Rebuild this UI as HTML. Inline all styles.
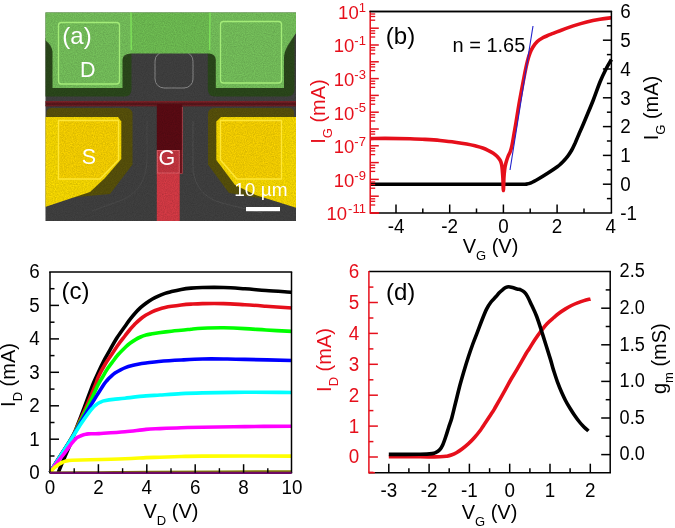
<!DOCTYPE html>
<html lang="en"><head><meta charset="utf-8"><title>Figure</title>
<style>html,body{margin:0;padding:0;background:#fff;}svg{display:block;will-change:transform;}text{font-family:"Liberation Sans", Arial, sans-serif;}</style></head><body>
<svg width="675" height="528" viewBox="0 0 675 528">
<rect width="675" height="528" fill="#fff"/>
<defs><clipPath id="sem"><rect x="45.5" y="12.5" width="250.5" height="208.5"/></clipPath><filter id="grain" x="0" y="0" width="100%" height="100%"><feTurbulence type="fractalNoise" baseFrequency="0.9" numOctaves="2" seed="3" result="n"/><feColorMatrix in="n" type="matrix" values="0 0 0 0 0  0 0 0 0 0  0 0 0 0 0  0.9 0 0 -0.28 0" result="a"/><feComposite in="a" in2="SourceGraphic" operator="in"/></filter></defs>
<g clip-path="url(#sem)">
<rect x="45" y="12" width="252" height="210" fill="#424242"/>
<rect x="155" y="52" width="38" height="36" rx="9" ry="9" fill="none" stroke="#8e8e8e" stroke-width="1"/>
<path d="M193 121 L193 170 Q196 196 222 203 L262 213" fill="none" stroke="#555" stroke-width="0.8"/>
<path d="M147 121 L147 160 Q146 190 122 200 L92 211" fill="none" stroke="#4f4f4f" stroke-width="0.8"/>
<path d="M45 38 L45 96.5 L124.5 96.5 Q131.5 96.5 131.5 89 L131.5 38 Z" fill="#2c4a1c"/>
<path d="M207.8 30 L207.8 89 Q207.8 96.5 215 96.5 L287 96.5 Q294.5 96.5 294.5 89 L294.5 30 Z" fill="#2c4a1c"/>
<path d="M45 12 L296 12 L296 33 L288 45 Q284 52 284 58 L284 88 L215.8 88 L215.8 60 Q215.5 53.5 209 53.5 L131 53.5 Q122.5 53.5 122.5 60 L122.5 88 L52.5 88 L52.5 52 Q52 45 45 40 Z" fill="#72c355"/>
<path d="M45 12 L131 12 L131 53 L122.5 58 L122.5 88 L52.5 88 L52.5 50 L45 40 Z" fill="#fff" opacity="0.055"/>
<path d="M210 12 L296 12 L296 33 L284 54 L284 88 L215.8 88 L215.8 58 L210 53 Z" fill="#fff" opacity="0.055"/>
<rect x="45" y="101.3" width="251" height="4.9" fill="#5c181d"/>
<rect x="45" y="101.3" width="251" height="1.1" fill="#93272e"/>
<rect x="45" y="105.3" width="251" height="0.9" fill="#7c2228"/>
<rect x="156.8" y="104" width="25.4" height="46.5" fill="#5d0b14"/>
<rect x="179.5" y="150" width="2.7" height="23" fill="#6e141c"/>
<rect x="156.8" y="150" width="22.9" height="23.5" fill="#ca3742"/>
<rect x="156.8" y="173" width="22.9" height="49" fill="#db3c47"/>
<rect x="157.3" y="150.5" width="21.9" height="22.5" fill="none" stroke="#e8656d" stroke-width="0.9"/>
<path d="M182.4 107 L182.4 173.5 L179.7 173.5" stroke="#b8464e" stroke-width="0.9" fill="none"/>
<path d="M46.5 130 L46.5 113 Q46.5 108 51.5 108 L126 108 Q132.5 108 132.5 114.5 L132.5 164.5 L110 194 L88 196 L46.5 200 Z" fill="#5a530b"/>
<path d="M294 130 L294 113 Q294 108 289 108 L214.5 108 Q208 108 208 114.5 L208 164.5 L229 193 L252 197 L294 200 Z" fill="#5a530b"/>
<path d="M45 117 L118 117 L121.3 121.5 L121.3 159 L105 178 L90 192 L45 207 Z" fill="#ffe000"/>
<path d="M296 117 L221 117 L216.3 121.5 L216.3 160 L235 185 L255.5 195 L296 207.7 Z" fill="#ffe000"/>
<path d="M58.5 120.5 L118.5 120.5 L118.5 160 L100 179 L58.5 179 Z" fill="#ffd200" opacity="0.6"/>
<path d="M281.5 120.5 L220.5 120.5 L220.5 160 L237 179 L281.5 179 Z" fill="#ffd200" opacity="0.6"/>
<rect x="45" y="12" width="252" height="210" fill="#000" filter="url(#grain)" opacity="0.25"/>
<rect x="58.5" y="22.5" width="61" height="61.5" rx="3" fill="none" stroke="#a6ee7a" stroke-width="1.3" opacity="0.95"/>
<rect x="220.5" y="21.5" width="61" height="61.5" rx="3" fill="none" stroke="#a6ee7a" stroke-width="1.3" opacity="0.95"/>
<path d="M131 12 L131.3 50 M210 12 L209.6 50" stroke="#7fe65a" stroke-width="1.4" opacity="0.9" fill="none"/>
<path d="M58.5 120.5 L118.5 120.5 L118.5 160 L100 179 L58.5 179 Z" fill="none" stroke="#ffe838" stroke-width="1.3" opacity="0.95"/>
<path d="M281.5 120.5 L220.5 120.5 L220.5 160 L237 179 L281.5 179 Z" fill="none" stroke="#ffe838" stroke-width="1.3" opacity="0.95"/>
<rect x="246" y="207" width="34" height="4.2" fill="#fff"/>
</g>
<text x="62.3" y="44.0" font-size="24" fill="#fff" text-anchor="start" >(a)</text>
<text x="80.1" y="76.8" font-size="21.5" fill="#fff" text-anchor="start" >D</text>
<text x="81.8" y="164.0" font-size="21.5" fill="#fff" text-anchor="start" >S</text>
<text x="158.4" y="164.5" font-size="21.5" fill="#fff" text-anchor="start" >G</text>
<text x="234.3" y="195.5" font-size="19" fill="#fff" text-anchor="start" >10 µm</text>
<path d="M370.2 184.2 C383.5 184.2 425.0 184.2 450.0 184.2 C475.0 184.2 507.3 184.2 520.0 184.2 C532.7 184.2 524.2 184.2 526.0 184.0 C527.8 183.8 528.9 183.7 531.0 182.8 C533.1 181.9 535.9 180.3 538.7 178.7 C541.5 177.1 544.9 175.0 548.0 173.0 C551.1 171.0 555.1 168.3 557.3 166.7 C559.5 165.1 559.8 164.7 561.0 163.6 C562.2 162.5 563.2 161.5 564.3 160.3 C565.4 159.1 566.5 157.8 567.6 156.4 C568.7 155.0 569.8 153.3 570.7 151.8 C571.6 150.3 572.2 149.1 573.0 147.6 C573.8 146.1 574.3 145.0 575.3 142.8 C576.2 140.7 577.5 137.5 578.7 134.7 C579.9 131.9 581.2 129.1 582.5 126.0 C583.8 122.9 584.9 120.3 586.7 116.0 C588.5 111.7 591.1 105.7 593.3 100.0 C595.5 94.3 597.9 87.2 600.0 82.0 C602.1 76.8 604.1 72.8 606.0 69.0 C607.9 65.2 610.5 61.1 611.4 59.5" fill="none" stroke="#000" stroke-width="3.6" stroke-linejoin="round" stroke-linecap="butt" />
<path d="M370.2 138.6 C372.7 138.6 378.4 138.4 385.0 138.4 C391.6 138.4 403.3 138.6 410.0 138.8 C416.7 139.0 420.0 139.1 425.0 139.4 C430.0 139.7 435.0 140.0 440.0 140.5 C445.0 141.0 450.6 141.6 455.0 142.2 C459.4 142.8 463.4 143.4 466.7 144.0 C470.0 144.6 472.3 145.1 475.0 145.8 C477.7 146.5 480.5 147.2 482.7 148.0 C484.9 148.8 486.2 149.4 488.0 150.3 C489.8 151.2 491.8 152.3 493.3 153.3 C494.8 154.3 495.9 155.1 497.0 156.2 C498.1 157.3 499.2 158.7 500.0 160.0 C500.8 161.3 501.1 162.3 501.5 164.0 C501.9 165.7 502.1 167.7 502.3 170.0 C502.5 172.3 502.7 174.6 502.9 178.0 C503.1 181.4 503.2 190.5 503.4 190.5 C503.6 190.5 503.7 181.4 503.9 178.0 C504.1 174.6 504.3 172.5 504.6 170.0 C504.9 167.5 505.3 165.2 505.9 163.0 C506.5 160.8 507.3 158.4 508.0 156.5 C508.7 154.6 509.6 153.4 510.3 151.5 C511.0 149.6 511.4 148.2 512.0 145.3 C512.6 142.4 513.3 138.0 514.0 134.0 C514.7 130.0 515.3 126.8 516.2 121.3 C517.1 115.8 518.2 108.6 519.5 101.3 C520.8 94.0 522.7 84.0 524.0 77.3 C525.3 70.6 526.5 65.0 527.5 61.0 C528.5 57.0 529.1 55.3 530.0 53.0 C530.9 50.7 531.8 48.9 533.0 47.0 C534.2 45.1 535.8 43.1 537.3 41.6 C538.8 40.1 540.4 39.1 542.0 38.2 C543.6 37.3 544.9 36.8 546.7 36.0 C548.5 35.2 550.8 34.3 553.0 33.4 C555.2 32.5 556.6 31.9 560.0 30.7 C563.4 29.4 568.8 27.4 573.3 25.9 C577.8 24.4 582.2 23.0 586.7 21.9 C591.2 20.8 595.9 19.9 600.0 19.2 C604.1 18.5 609.5 18.0 611.4 17.8" fill="none" stroke="#e60f1b" stroke-width="3.6" stroke-linejoin="round" stroke-linecap="butt" />
<line x1="510.0" y1="170.0" x2="533.0" y2="26.0" stroke="#2222cc" stroke-width="1.1"/>
<line x1="370.2" y1="11.4" x2="612.1" y2="11.4" stroke="#000" stroke-width="1.5"/>
<line x1="370.2" y1="213.0" x2="612.1" y2="213.0" stroke="#000" stroke-width="1.5"/>
<line x1="611.4" y1="11.4" x2="611.4" y2="213.0" stroke="#000" stroke-width="1.5"/>
<line x1="370.2" y1="10.7" x2="370.2" y2="213.8" stroke="#e60f1b" stroke-width="1.5"/>
<line x1="370.2" y1="213.0" x2="379.2" y2="213.0" stroke="#e60f1b" stroke-width="1.5"/>
<line x1="370.2" y1="14.0" x2="375.2" y2="14.0" stroke="#e60f1b" stroke-width="1.3"/>
<line x1="370.2" y1="16.5" x2="375.2" y2="16.5" stroke="#e60f1b" stroke-width="1.3"/>
<line x1="370.2" y1="20.2" x2="375.2" y2="20.2" stroke="#e60f1b" stroke-width="1.3"/>
<line x1="370.2" y1="28.2" x2="378.8" y2="28.2" stroke="#e60f1b" stroke-width="1.5"/>
<line x1="370.2" y1="30.8" x2="375.2" y2="30.8" stroke="#e60f1b" stroke-width="1.3"/>
<line x1="370.2" y1="33.3" x2="375.2" y2="33.3" stroke="#e60f1b" stroke-width="1.3"/>
<line x1="370.2" y1="37.0" x2="375.2" y2="37.0" stroke="#e60f1b" stroke-width="1.3"/>
<line x1="370.2" y1="45.0" x2="378.8" y2="45.0" stroke="#e60f1b" stroke-width="1.5"/>
<line x1="370.2" y1="47.6" x2="375.2" y2="47.6" stroke="#e60f1b" stroke-width="1.3"/>
<line x1="370.2" y1="50.1" x2="375.2" y2="50.1" stroke="#e60f1b" stroke-width="1.3"/>
<line x1="370.2" y1="53.8" x2="375.2" y2="53.8" stroke="#e60f1b" stroke-width="1.3"/>
<line x1="370.2" y1="61.8" x2="378.8" y2="61.8" stroke="#e60f1b" stroke-width="1.5"/>
<line x1="370.2" y1="64.4" x2="375.2" y2="64.4" stroke="#e60f1b" stroke-width="1.3"/>
<line x1="370.2" y1="66.9" x2="375.2" y2="66.9" stroke="#e60f1b" stroke-width="1.3"/>
<line x1="370.2" y1="70.6" x2="375.2" y2="70.6" stroke="#e60f1b" stroke-width="1.3"/>
<line x1="370.2" y1="78.6" x2="378.8" y2="78.6" stroke="#e60f1b" stroke-width="1.5"/>
<line x1="370.2" y1="81.2" x2="375.2" y2="81.2" stroke="#e60f1b" stroke-width="1.3"/>
<line x1="370.2" y1="83.7" x2="375.2" y2="83.7" stroke="#e60f1b" stroke-width="1.3"/>
<line x1="370.2" y1="87.4" x2="375.2" y2="87.4" stroke="#e60f1b" stroke-width="1.3"/>
<line x1="370.2" y1="95.4" x2="378.8" y2="95.4" stroke="#e60f1b" stroke-width="1.5"/>
<line x1="370.2" y1="98.0" x2="375.2" y2="98.0" stroke="#e60f1b" stroke-width="1.3"/>
<line x1="370.2" y1="100.5" x2="375.2" y2="100.5" stroke="#e60f1b" stroke-width="1.3"/>
<line x1="370.2" y1="104.2" x2="375.2" y2="104.2" stroke="#e60f1b" stroke-width="1.3"/>
<line x1="370.2" y1="112.2" x2="378.8" y2="112.2" stroke="#e60f1b" stroke-width="1.5"/>
<line x1="370.2" y1="114.8" x2="375.2" y2="114.8" stroke="#e60f1b" stroke-width="1.3"/>
<line x1="370.2" y1="117.3" x2="375.2" y2="117.3" stroke="#e60f1b" stroke-width="1.3"/>
<line x1="370.2" y1="121.0" x2="375.2" y2="121.0" stroke="#e60f1b" stroke-width="1.3"/>
<line x1="370.2" y1="129.0" x2="378.8" y2="129.0" stroke="#e60f1b" stroke-width="1.5"/>
<line x1="370.2" y1="131.6" x2="375.2" y2="131.6" stroke="#e60f1b" stroke-width="1.3"/>
<line x1="370.2" y1="134.1" x2="375.2" y2="134.1" stroke="#e60f1b" stroke-width="1.3"/>
<line x1="370.2" y1="137.8" x2="375.2" y2="137.8" stroke="#e60f1b" stroke-width="1.3"/>
<line x1="370.2" y1="145.8" x2="378.8" y2="145.8" stroke="#e60f1b" stroke-width="1.5"/>
<line x1="370.2" y1="148.4" x2="375.2" y2="148.4" stroke="#e60f1b" stroke-width="1.3"/>
<line x1="370.2" y1="150.9" x2="375.2" y2="150.9" stroke="#e60f1b" stroke-width="1.3"/>
<line x1="370.2" y1="154.6" x2="375.2" y2="154.6" stroke="#e60f1b" stroke-width="1.3"/>
<line x1="370.2" y1="162.6" x2="378.8" y2="162.6" stroke="#e60f1b" stroke-width="1.5"/>
<line x1="370.2" y1="165.2" x2="375.2" y2="165.2" stroke="#e60f1b" stroke-width="1.3"/>
<line x1="370.2" y1="167.7" x2="375.2" y2="167.7" stroke="#e60f1b" stroke-width="1.3"/>
<line x1="370.2" y1="171.4" x2="375.2" y2="171.4" stroke="#e60f1b" stroke-width="1.3"/>
<line x1="370.2" y1="179.4" x2="378.8" y2="179.4" stroke="#e60f1b" stroke-width="1.5"/>
<line x1="370.2" y1="182.0" x2="375.2" y2="182.0" stroke="#e60f1b" stroke-width="1.3"/>
<line x1="370.2" y1="184.5" x2="375.2" y2="184.5" stroke="#e60f1b" stroke-width="1.3"/>
<line x1="370.2" y1="188.2" x2="375.2" y2="188.2" stroke="#e60f1b" stroke-width="1.3"/>
<line x1="370.2" y1="196.2" x2="378.8" y2="196.2" stroke="#e60f1b" stroke-width="1.5"/>
<line x1="370.2" y1="198.8" x2="375.2" y2="198.8" stroke="#e60f1b" stroke-width="1.3"/>
<line x1="370.2" y1="201.3" x2="375.2" y2="201.3" stroke="#e60f1b" stroke-width="1.3"/>
<line x1="370.2" y1="205.0" x2="375.2" y2="205.0" stroke="#e60f1b" stroke-width="1.3"/>
<line x1="370.2" y1="213.0" x2="378.8" y2="213.0" stroke="#e60f1b" stroke-width="1.5"/>
<text x="358.7" y="18.7" font-size="18.5" fill="#e60f1b" text-anchor="end">10</text>
<text x="365.9" y="11.6" font-size="13" fill="#e60f1b" text-anchor="end">1</text>
<text x="354.3" y="52.3" font-size="18.5" fill="#e60f1b" text-anchor="end">10</text>
<text x="365.9" y="45.2" font-size="13" fill="#e60f1b" text-anchor="end">-1</text>
<text x="354.3" y="85.9" font-size="18.5" fill="#e60f1b" text-anchor="end">10</text>
<text x="365.9" y="78.8" font-size="13" fill="#e60f1b" text-anchor="end">-3</text>
<text x="354.3" y="119.5" font-size="18.5" fill="#e60f1b" text-anchor="end">10</text>
<text x="365.9" y="112.4" font-size="13" fill="#e60f1b" text-anchor="end">-5</text>
<text x="354.3" y="153.1" font-size="18.5" fill="#e60f1b" text-anchor="end">10</text>
<text x="365.9" y="146.0" font-size="13" fill="#e60f1b" text-anchor="end">-7</text>
<text x="354.3" y="186.7" font-size="18.5" fill="#e60f1b" text-anchor="end">10</text>
<text x="365.9" y="179.6" font-size="13" fill="#e60f1b" text-anchor="end">-9</text>
<text x="347.1" y="220.3" font-size="18.5" fill="#e60f1b" text-anchor="end">10</text>
<text x="365.9" y="213.2" font-size="13" fill="#e60f1b" text-anchor="end">-11</text>
<text transform="translate(620.3 219.8) scale(0.96 1)" font-size="19.6" fill="#000" text-anchor="start" >-1</text>
<line x1="606.9" y1="198.6" x2="611.4" y2="198.6" stroke="#000" stroke-width="1.5"/>
<line x1="602.9" y1="184.2" x2="611.4" y2="184.2" stroke="#000" stroke-width="1.5"/>
<text transform="translate(620.3 191.0) scale(0.96 1)" font-size="19.6" fill="#000" text-anchor="start" >0</text>
<line x1="606.9" y1="169.8" x2="611.4" y2="169.8" stroke="#000" stroke-width="1.5"/>
<line x1="602.9" y1="155.4" x2="611.4" y2="155.4" stroke="#000" stroke-width="1.5"/>
<text transform="translate(620.3 162.2) scale(0.96 1)" font-size="19.6" fill="#000" text-anchor="start" >1</text>
<line x1="606.9" y1="141.0" x2="611.4" y2="141.0" stroke="#000" stroke-width="1.5"/>
<line x1="602.9" y1="126.6" x2="611.4" y2="126.6" stroke="#000" stroke-width="1.5"/>
<text transform="translate(620.3 133.4) scale(0.96 1)" font-size="19.6" fill="#000" text-anchor="start" >2</text>
<line x1="606.9" y1="112.2" x2="611.4" y2="112.2" stroke="#000" stroke-width="1.5"/>
<line x1="602.9" y1="97.8" x2="611.4" y2="97.8" stroke="#000" stroke-width="1.5"/>
<text transform="translate(620.3 104.6) scale(0.96 1)" font-size="19.6" fill="#000" text-anchor="start" >3</text>
<line x1="606.9" y1="83.4" x2="611.4" y2="83.4" stroke="#000" stroke-width="1.5"/>
<line x1="602.9" y1="69.0" x2="611.4" y2="69.0" stroke="#000" stroke-width="1.5"/>
<text transform="translate(620.3 75.8) scale(0.96 1)" font-size="19.6" fill="#000" text-anchor="start" >4</text>
<line x1="606.9" y1="54.6" x2="611.4" y2="54.6" stroke="#000" stroke-width="1.5"/>
<line x1="602.9" y1="40.2" x2="611.4" y2="40.2" stroke="#000" stroke-width="1.5"/>
<text transform="translate(620.3 47.0) scale(0.96 1)" font-size="19.6" fill="#000" text-anchor="start" >5</text>
<line x1="606.9" y1="25.8" x2="611.4" y2="25.8" stroke="#000" stroke-width="1.5"/>
<text transform="translate(620.3 18.2) scale(0.96 1)" font-size="19.6" fill="#000" text-anchor="start" >6</text>
<line x1="396.0" y1="204.5" x2="396.0" y2="213.0" stroke="#000" stroke-width="1.5"/>
<text transform="translate(396.0 232.6) scale(0.96 1)" font-size="19.6" fill="#000" text-anchor="middle" >-4</text>
<line x1="422.8" y1="208.5" x2="422.8" y2="213.0" stroke="#000" stroke-width="1.5"/>
<line x1="449.7" y1="204.5" x2="449.7" y2="213.0" stroke="#000" stroke-width="1.5"/>
<text transform="translate(449.7 232.6) scale(0.96 1)" font-size="19.6" fill="#000" text-anchor="middle" >-2</text>
<line x1="476.5" y1="208.5" x2="476.5" y2="213.0" stroke="#000" stroke-width="1.5"/>
<line x1="503.4" y1="204.5" x2="503.4" y2="213.0" stroke="#000" stroke-width="1.5"/>
<text transform="translate(503.4 232.6) scale(0.96 1)" font-size="19.6" fill="#000" text-anchor="middle" >0</text>
<line x1="530.2" y1="208.5" x2="530.2" y2="213.0" stroke="#000" stroke-width="1.5"/>
<line x1="557.1" y1="204.5" x2="557.1" y2="213.0" stroke="#000" stroke-width="1.5"/>
<text transform="translate(557.1 232.6) scale(0.96 1)" font-size="19.6" fill="#000" text-anchor="middle" >2</text>
<line x1="584.0" y1="208.5" x2="584.0" y2="213.0" stroke="#000" stroke-width="1.5"/>
<text transform="translate(610.8 232.6) scale(0.96 1)" font-size="19.6" fill="#000" text-anchor="middle" >4</text>
<line x1="369.4" y1="11.4" x2="612.1" y2="11.4" stroke="#000" stroke-width="1.5"/>
<text x="385.8" y="44.0" font-size="24" fill="#000" text-anchor="start" >(b)</text>
<text x="452.5" y="52.0" font-size="20" fill="#000" text-anchor="start" >n = 1.65</text>
<text x="490.5" y="252.8" font-size="20" text-anchor="middle">V<tspan font-size="13" dy="7">G</tspan><tspan dy="-7"> (V)</tspan></text>
<text transform="translate(324.5 111.5) rotate(-90)" font-size="20" fill="#e60f1b" text-anchor="middle">I<tspan font-size="13" dy="7">G</tspan><tspan dy="-7"> (mA)</tspan></text>
<text transform="translate(658 108) rotate(-90)" font-size="20" text-anchor="middle">I<tspan font-size="13" dy="7">G</tspan><tspan dy="-7"> (mA)</tspan></text>
<path d="M58.3 472.7 C58.8 471.3 60.4 467.1 61.5 464.5 C62.6 461.9 63.3 460.2 64.8 456.9 C66.2 453.5 68.1 449.6 70.2 444.4 C72.3 439.2 75.0 431.8 77.4 425.5 C79.8 419.2 82.0 413.4 84.6 406.6 C87.1 399.9 90.8 389.9 92.7 385.0 C94.6 380.1 94.5 380.8 96.2 377.0 C97.9 373.2 100.7 367.0 103.0 362.5 C105.3 358.0 107.7 354.0 110.0 349.9 C112.3 345.8 114.5 341.7 117.0 337.8 C119.5 333.9 122.7 329.6 124.9 326.5 C127.1 323.4 128.2 321.6 130.0 319.3 C131.8 317.0 133.8 314.6 135.5 312.7 C137.2 310.8 138.8 309.2 140.5 307.6 C142.2 306.0 144.1 304.6 146.0 303.2 C147.9 301.8 149.9 300.4 152.0 299.2 C154.1 298.0 156.6 296.8 158.8 295.8 C161.0 294.8 162.9 294.1 165.0 293.4 C167.1 292.7 168.8 292.3 171.5 291.6 C174.2 290.9 177.9 290.0 181.2 289.4 C184.4 288.8 187.5 288.4 191.0 288.1 C194.5 287.8 197.0 287.6 202.4 287.5 C207.8 287.4 216.5 287.3 223.6 287.5 C230.7 287.7 237.7 288.3 244.8 288.8 C251.9 289.3 258.1 289.9 266.0 290.5 C273.9 291.1 287.7 291.9 292.0 292.2" fill="none" stroke="#000" stroke-width="3.6" stroke-linejoin="round" stroke-linecap="butt" />
<path d="M50.0 472.7 C51.0 471.1 53.6 466.5 55.8 463.0 C58.0 459.5 60.3 456.1 63.0 451.8 C65.7 447.5 69.0 442.8 72.0 437.2 C75.0 431.6 78.3 424.1 81.0 418.3 C83.7 412.5 85.8 407.7 88.2 402.1 C90.6 396.6 93.7 389.2 95.4 385.0 C97.1 380.8 96.7 380.4 98.3 377.0 C99.9 373.6 102.7 368.3 105.0 364.5 C107.3 360.7 109.8 357.2 112.0 354.0 C114.2 350.8 115.8 348.0 118.0 345.0 C120.2 342.0 122.9 338.6 124.9 336.0 C126.9 333.4 128.2 331.6 130.0 329.5 C131.8 327.4 133.8 325.4 135.5 323.6 C137.2 321.9 138.8 320.4 140.5 319.0 C142.2 317.6 144.1 316.3 146.0 315.1 C147.9 313.9 149.9 312.8 152.0 311.8 C154.1 310.8 156.6 309.9 158.8 309.2 C161.0 308.5 162.9 308.0 165.0 307.5 C167.1 307.0 168.8 306.7 171.5 306.3 C174.2 305.9 177.9 305.4 181.2 305.0 C184.4 304.6 187.5 304.3 191.0 304.1 C194.5 303.9 197.0 303.7 202.4 303.6 C207.8 303.5 216.5 303.4 223.6 303.6 C230.7 303.8 237.7 304.3 244.8 304.7 C251.9 305.1 258.1 305.6 266.0 306.2 C273.9 306.8 287.7 307.7 292.0 308.0" fill="none" stroke="#e60f1b" stroke-width="3.6" stroke-linejoin="round" stroke-linecap="butt" />
<path d="M50.0 472.7 C51.0 471.1 53.6 466.5 55.8 463.0 C58.0 459.5 60.3 456.1 63.0 451.8 C65.7 447.5 69.0 442.7 72.0 437.4 C75.0 432.1 78.0 425.9 81.0 420.0 C84.0 414.1 87.2 407.9 90.0 402.1 C92.8 396.3 95.9 389.2 98.0 385.0 C100.1 380.8 101.1 379.6 102.6 377.0 C104.1 374.4 105.4 371.9 107.0 369.5 C108.6 367.1 110.2 365.1 112.0 362.6 C113.8 360.2 115.8 357.3 118.0 354.8 C120.2 352.3 122.9 349.6 124.9 347.7 C126.9 345.8 128.2 344.5 130.0 343.2 C131.8 341.9 133.8 340.6 135.5 339.6 C137.2 338.6 138.8 337.8 140.5 337.0 C142.2 336.2 144.1 335.5 146.0 335.0 C147.9 334.5 149.9 334.2 152.0 333.8 C154.1 333.4 155.6 333.1 158.8 332.7 C162.1 332.3 167.8 331.6 171.5 331.2 C175.2 330.8 177.9 330.6 181.2 330.3 C184.4 330.0 187.5 329.6 191.0 329.2 C194.5 328.8 197.0 328.4 202.4 328.2 C207.8 328.0 216.5 327.7 223.6 327.8 C230.7 327.9 237.7 328.2 244.8 328.6 C251.9 329.0 258.1 329.5 266.0 330.0 C273.9 330.5 287.7 331.2 292.0 331.4" fill="none" stroke="#00ff00" stroke-width="3.6" stroke-linejoin="round" stroke-linecap="butt" />
<path d="M50.0 472.7 C51.0 471.1 53.6 466.5 55.8 463.0 C58.0 459.5 60.3 456.0 63.0 451.8 C65.7 447.6 69.0 442.6 72.0 437.6 C75.0 432.6 78.0 427.1 81.0 421.9 C84.0 416.7 87.3 411.1 90.0 406.6 C92.7 402.1 95.0 398.5 97.2 394.9 C99.5 391.3 101.9 387.4 103.5 385.0 C105.1 382.6 105.9 381.8 107.0 380.5 C108.1 379.2 108.7 378.6 110.0 377.3 C111.3 376.1 113.2 374.2 115.0 373.0 C116.8 371.8 118.8 370.7 120.6 369.8 C122.4 368.9 124.2 368.1 126.0 367.4 C127.8 366.7 129.2 366.3 131.2 365.8 C133.2 365.3 135.5 364.7 138.0 364.2 C140.5 363.7 142.5 363.4 146.0 363.0 C149.5 362.6 152.9 362.0 158.8 361.5 C164.7 361.0 173.9 360.4 181.2 360.0 C188.5 359.6 195.3 359.2 202.4 359.0 C209.5 358.8 216.5 358.9 223.6 359.0 C230.7 359.1 233.4 359.1 244.8 359.4 C256.2 359.6 284.1 360.3 292.0 360.5" fill="none" stroke="#0000ff" stroke-width="3.6" stroke-linejoin="round" stroke-linecap="butt" />
<path d="M50.0 472.7 C51.0 471.1 53.6 466.6 55.8 463.2 C58.0 459.8 60.3 456.2 63.0 452.0 C65.7 447.8 69.0 442.7 72.0 438.0 C75.0 433.3 78.0 428.2 81.0 423.7 C84.0 419.2 87.8 414.0 90.0 411.1 C92.2 408.2 92.8 407.8 94.0 406.6 C95.2 405.4 96.1 404.6 97.2 403.9 C98.3 403.1 99.3 402.6 100.5 402.1 C101.7 401.6 102.3 401.2 104.4 400.8 C106.5 400.4 109.9 399.8 113.3 399.4 C116.7 399.0 119.5 398.8 124.9 398.2 C130.3 397.6 140.2 396.4 146.0 395.9 C151.8 395.4 154.1 395.4 160.0 395.0 C165.9 394.6 174.1 394.0 181.2 393.6 C188.3 393.2 191.8 393.1 202.4 392.9 C213.0 392.7 229.9 392.4 244.8 392.3 C259.7 392.2 284.1 392.5 292.0 392.5" fill="none" stroke="#00ffff" stroke-width="3.6" stroke-linejoin="round" stroke-linecap="butt" />
<path d="M50.0 472.7 C51.0 471.3 53.6 467.0 55.8 464.1 C58.0 461.2 60.6 458.2 63.0 455.1 C65.4 452.0 68.5 447.5 70.2 445.3 C71.9 443.1 72.1 442.9 73.0 441.8 C73.9 440.8 74.8 439.8 75.6 439.0 C76.4 438.2 77.1 437.7 78.0 437.1 C78.9 436.6 79.9 436.1 81.0 435.7 C82.1 435.3 83.3 434.9 84.5 434.6 C85.7 434.3 85.8 434.1 88.2 433.9 C90.6 433.7 92.9 434.0 99.0 433.6 C105.1 433.2 117.1 432.5 124.9 431.8 C132.7 431.1 140.2 429.9 146.0 429.4 C151.8 428.9 154.1 428.9 160.0 428.6 C165.9 428.3 174.1 427.9 181.2 427.7 C188.3 427.5 191.8 427.5 202.4 427.3 C213.0 427.1 229.9 426.8 244.8 426.6 C259.7 426.4 284.1 426.3 292.0 426.2" fill="none" stroke="#ff00ff" stroke-width="3.6" stroke-linejoin="round" stroke-linecap="butt" />
<path d="M50.0 472.7 C50.7 471.9 52.9 469.2 54.0 468.1 C55.1 467.0 55.8 466.7 56.7 466.0 C57.6 465.3 58.5 464.7 59.4 464.1 C60.3 463.5 61.1 462.9 62.0 462.5 C62.9 462.1 63.8 461.7 64.8 461.4 C65.8 461.1 66.8 460.8 68.0 460.6 C69.2 460.4 68.3 460.3 72.0 460.2 C75.7 460.1 81.2 460.0 90.0 459.8 C98.8 459.6 115.6 459.2 124.9 458.8 C134.2 458.4 140.2 457.9 146.0 457.6 C151.8 457.3 154.1 457.4 160.0 457.2 C165.9 457.0 174.1 456.7 181.2 456.5 C188.3 456.3 183.9 456.2 202.4 456.1 C220.9 456.0 277.1 456.1 292.0 456.1" fill="none" stroke="#ffff00" stroke-width="3.6" stroke-linejoin="round" stroke-linecap="butt" />
<path d="M50.0 472.7 C58.3 472.6 83.3 472.5 100.0 472.4 C116.7 472.3 118.0 472.0 150.0 471.9 C182.0 471.8 268.3 471.6 292.0 471.5" fill="none" stroke="#808000" stroke-width="2.5" stroke-linejoin="round" stroke-linecap="butt" />
<line x1="49.2" y1="272.0" x2="292.2" y2="272.0" stroke="#000" stroke-width="1.5"/>
<line x1="49.2" y1="472.7" x2="292.2" y2="472.7" stroke="#000" stroke-width="1.5"/>
<line x1="50.0" y1="272.0" x2="50.0" y2="472.7" stroke="#000" stroke-width="1.5"/>
<line x1="291.5" y1="272.0" x2="291.5" y2="472.7" stroke="#000" stroke-width="1.5"/>
<line x1="50.0" y1="472.9" x2="291.5" y2="472.9" stroke="#6e0a66" stroke-width="2.4"/>
<text transform="translate(39.8 479.1) scale(0.96 1)" font-size="19.6" fill="#000" text-anchor="end" >0</text>
<line x1="50.0" y1="456.0" x2="54.5" y2="456.0" stroke="#000" stroke-width="1.5"/>
<line x1="50.0" y1="439.2" x2="59.0" y2="439.2" stroke="#000" stroke-width="1.5"/>
<text transform="translate(39.8 445.6) scale(0.96 1)" font-size="19.6" fill="#000" text-anchor="end" >1</text>
<line x1="50.0" y1="422.5" x2="54.5" y2="422.5" stroke="#000" stroke-width="1.5"/>
<line x1="50.0" y1="405.8" x2="59.0" y2="405.8" stroke="#000" stroke-width="1.5"/>
<text transform="translate(39.8 412.2) scale(0.96 1)" font-size="19.6" fill="#000" text-anchor="end" >2</text>
<line x1="50.0" y1="389.1" x2="54.5" y2="389.1" stroke="#000" stroke-width="1.5"/>
<line x1="50.0" y1="372.3" x2="59.0" y2="372.3" stroke="#000" stroke-width="1.5"/>
<text transform="translate(39.8 378.7) scale(0.96 1)" font-size="19.6" fill="#000" text-anchor="end" >3</text>
<line x1="50.0" y1="355.6" x2="54.5" y2="355.6" stroke="#000" stroke-width="1.5"/>
<line x1="50.0" y1="338.9" x2="59.0" y2="338.9" stroke="#000" stroke-width="1.5"/>
<text transform="translate(39.8 345.3) scale(0.96 1)" font-size="19.6" fill="#000" text-anchor="end" >4</text>
<line x1="50.0" y1="322.2" x2="54.5" y2="322.2" stroke="#000" stroke-width="1.5"/>
<line x1="50.0" y1="305.4" x2="59.0" y2="305.4" stroke="#000" stroke-width="1.5"/>
<text transform="translate(39.8 311.8) scale(0.96 1)" font-size="19.6" fill="#000" text-anchor="end" >5</text>
<line x1="50.0" y1="288.7" x2="54.5" y2="288.7" stroke="#000" stroke-width="1.5"/>
<text transform="translate(39.8 278.4) scale(0.96 1)" font-size="19.6" fill="#000" text-anchor="end" >6</text>
<text transform="translate(50.0 493.6) scale(0.96 1)" font-size="19.6" fill="#000" text-anchor="middle" >0</text>
<line x1="74.2" y1="468.2" x2="74.2" y2="472.7" stroke="#000" stroke-width="1.4"/>
<line x1="98.4" y1="464.2" x2="98.4" y2="472.7" stroke="#000" stroke-width="1.5"/>
<text transform="translate(98.4 493.6) scale(0.96 1)" font-size="19.6" fill="#000" text-anchor="middle" >2</text>
<line x1="122.6" y1="468.2" x2="122.6" y2="472.7" stroke="#000" stroke-width="1.4"/>
<line x1="146.8" y1="464.2" x2="146.8" y2="472.7" stroke="#000" stroke-width="1.5"/>
<text transform="translate(146.8 493.6) scale(0.96 1)" font-size="19.6" fill="#000" text-anchor="middle" >4</text>
<line x1="171.0" y1="468.2" x2="171.0" y2="472.7" stroke="#000" stroke-width="1.4"/>
<line x1="195.2" y1="464.2" x2="195.2" y2="472.7" stroke="#000" stroke-width="1.5"/>
<text transform="translate(195.2 493.6) scale(0.96 1)" font-size="19.6" fill="#000" text-anchor="middle" >6</text>
<line x1="219.4" y1="468.2" x2="219.4" y2="472.7" stroke="#000" stroke-width="1.4"/>
<line x1="243.6" y1="464.2" x2="243.6" y2="472.7" stroke="#000" stroke-width="1.5"/>
<text transform="translate(243.6 493.6) scale(0.96 1)" font-size="19.6" fill="#000" text-anchor="middle" >8</text>
<line x1="267.8" y1="468.2" x2="267.8" y2="472.7" stroke="#000" stroke-width="1.4"/>
<text transform="translate(292.0 493.6) scale(0.96 1)" font-size="19.6" fill="#000" text-anchor="middle" >10</text>
<text x="61.6" y="299.3" font-size="24" fill="#000" text-anchor="start" >(c)</text>
<text x="171" y="517.6" font-size="20" text-anchor="middle">V<tspan font-size="13" dy="7">D</tspan><tspan dy="-7"> (V)</tspan></text>
<text transform="translate(14.8 375) rotate(-90)" font-size="20" text-anchor="middle">I<tspan font-size="13" dy="7">D</tspan><tspan dy="-7"> (mA)</tspan></text>
<path d="M388.8 456.8 C394.0 456.8 411.5 456.8 420.0 456.8 C428.5 456.8 435.5 456.9 440.0 456.8 C444.5 456.7 445.0 456.5 447.0 456.2 C449.0 455.9 450.4 455.4 452.0 454.8 C453.6 454.2 454.7 453.7 456.4 452.7 C458.1 451.7 460.0 450.5 462.0 449.0 C464.0 447.5 466.4 445.5 468.5 443.6 C470.6 441.7 472.5 439.8 474.5 437.5 C476.5 435.2 479.1 432.0 480.6 430.0 C482.1 428.0 481.6 428.4 483.6 425.4 C485.6 422.4 490.7 414.9 492.7 411.8 C494.7 408.7 493.8 410.0 495.8 406.5 C497.8 403.0 502.3 395.1 504.8 390.6 C507.3 386.1 508.9 383.0 510.9 379.5 C512.9 376.0 514.5 373.7 517.0 369.4 C519.5 365.1 524.1 356.9 526.1 353.5 C528.1 350.1 527.6 351.3 529.1 349.0 C530.6 346.7 533.0 342.5 535.0 339.5 C537.0 336.5 539.2 333.4 541.2 330.8 C543.2 328.2 545.0 325.8 547.0 323.7 C549.0 321.6 551.3 319.7 553.3 318.0 C555.3 316.3 557.0 314.8 559.0 313.3 C561.0 311.8 563.4 310.2 565.5 308.9 C567.6 307.6 569.5 306.5 571.5 305.5 C573.5 304.5 575.5 303.7 577.6 302.9 C579.7 302.1 581.9 301.3 584.0 300.6 C586.1 299.9 589.4 299.2 590.5 298.9" fill="none" stroke="#e60f1b" stroke-width="3.6" stroke-linejoin="round" stroke-linecap="butt" stroke-linecap="round"/>
<path d="M388.8 454.4 C394.0 454.4 412.8 454.3 420.0 454.2 C427.2 454.1 429.4 453.9 432.1 453.6 C434.8 453.3 434.7 453.0 436.0 452.4 C437.3 451.8 438.6 450.9 439.7 449.7 C440.8 448.5 441.7 447.2 442.7 445.0 C443.7 442.8 444.8 439.5 445.8 436.5 C446.8 433.5 447.8 430.1 448.8 427.0 C449.8 423.9 450.7 421.9 451.8 417.9 C452.9 413.9 454.2 408.1 455.5 403.0 C456.8 397.9 458.0 392.5 459.4 387.2 C460.8 381.9 462.5 376.1 464.0 371.0 C465.5 365.9 467.0 361.1 468.5 356.5 C470.0 351.9 471.5 347.6 473.0 343.5 C474.5 339.4 476.1 335.5 477.6 331.6 C479.1 327.7 480.5 323.8 482.0 320.0 C483.5 316.2 485.2 311.9 486.7 308.9 C488.2 305.9 489.5 304.0 491.0 302.0 C492.5 300.0 494.4 298.4 495.8 296.8 C497.2 295.2 498.2 293.8 499.5 292.5 C500.8 291.2 502.2 290.1 503.3 289.2 C504.4 288.3 505.1 287.8 506.0 287.4 C506.9 287.0 507.4 286.8 508.5 286.8 C509.6 286.8 511.1 287.2 512.5 287.6 C513.9 288.0 515.6 288.6 517.0 289.0 C518.4 289.4 519.8 289.4 521.0 290.0 C522.2 290.6 523.4 291.2 524.5 292.3 C525.6 293.4 526.5 294.7 527.5 296.5 C528.5 298.3 529.1 299.6 530.6 302.9 C532.1 306.2 534.7 311.2 536.7 316.5 C538.7 321.8 540.4 327.5 542.7 334.6 C545.0 341.7 548.5 353.1 550.3 358.9 C552.1 364.7 552.0 365.3 553.3 369.4 C554.6 373.4 556.5 379.4 557.9 383.2 C559.3 387.0 560.2 389.1 561.5 392.0 C562.8 394.9 564.1 397.8 565.5 400.5 C566.9 403.2 568.5 405.9 570.0 408.3 C571.5 410.8 572.9 412.9 574.5 415.2 C576.1 417.5 577.9 420.0 579.5 422.0 C581.1 424.0 582.5 425.5 584.0 427.0 C585.5 428.5 587.7 430.3 588.4 431.0" fill="none" stroke="#000" stroke-width="3.6" stroke-linejoin="round" stroke-linecap="butt" stroke-linecap="round"/>
<line x1="368.9" y1="271.6" x2="611.0" y2="271.6" stroke="#000" stroke-width="1.5"/>
<line x1="368.9" y1="472.7" x2="611.0" y2="472.7" stroke="#000" stroke-width="1.5"/>
<line x1="610.2" y1="271.6" x2="610.2" y2="472.7" stroke="#000" stroke-width="1.5"/>
<line x1="368.9" y1="270.9" x2="368.9" y2="473.4" stroke="#e60f1b" stroke-width="1.5"/>
<line x1="368.9" y1="472.7" x2="374.9" y2="472.7" stroke="#e60f1b" stroke-width="1.5"/>
<line x1="368.9" y1="457.0" x2="377.9" y2="457.0" stroke="#e60f1b" stroke-width="1.5"/>
<text transform="translate(359.3 463.4) scale(0.96 1)" font-size="19.6" fill="#e60f1b" text-anchor="end" >0</text>
<line x1="368.9" y1="472.4" x2="373.4" y2="472.4" stroke="#e60f1b" stroke-width="1.5"/>
<line x1="368.9" y1="426.1" x2="377.9" y2="426.1" stroke="#e60f1b" stroke-width="1.5"/>
<text transform="translate(359.3 432.5) scale(0.96 1)" font-size="19.6" fill="#e60f1b" text-anchor="end" >1</text>
<line x1="368.9" y1="441.6" x2="373.4" y2="441.6" stroke="#e60f1b" stroke-width="1.5"/>
<line x1="368.9" y1="395.2" x2="377.9" y2="395.2" stroke="#e60f1b" stroke-width="1.5"/>
<text transform="translate(359.3 401.6) scale(0.96 1)" font-size="19.6" fill="#e60f1b" text-anchor="end" >2</text>
<line x1="368.9" y1="410.6" x2="373.4" y2="410.6" stroke="#e60f1b" stroke-width="1.5"/>
<line x1="368.9" y1="364.3" x2="377.9" y2="364.3" stroke="#e60f1b" stroke-width="1.5"/>
<text transform="translate(359.3 370.7) scale(0.96 1)" font-size="19.6" fill="#e60f1b" text-anchor="end" >3</text>
<line x1="368.9" y1="379.8" x2="373.4" y2="379.8" stroke="#e60f1b" stroke-width="1.5"/>
<line x1="368.9" y1="333.4" x2="377.9" y2="333.4" stroke="#e60f1b" stroke-width="1.5"/>
<text transform="translate(359.3 339.8) scale(0.96 1)" font-size="19.6" fill="#e60f1b" text-anchor="end" >4</text>
<line x1="368.9" y1="348.9" x2="373.4" y2="348.9" stroke="#e60f1b" stroke-width="1.5"/>
<line x1="368.9" y1="302.5" x2="377.9" y2="302.5" stroke="#e60f1b" stroke-width="1.5"/>
<text transform="translate(359.3 308.9) scale(0.96 1)" font-size="19.6" fill="#e60f1b" text-anchor="end" >5</text>
<line x1="368.9" y1="318.0" x2="373.4" y2="318.0" stroke="#e60f1b" stroke-width="1.5"/>
<text transform="translate(359.3 278.0) scale(0.96 1)" font-size="19.6" fill="#e60f1b" text-anchor="end" >6</text>
<line x1="368.9" y1="287.1" x2="373.4" y2="287.1" stroke="#e60f1b" stroke-width="1.5"/>
<line x1="601.2" y1="454.6" x2="610.2" y2="454.6" stroke="#000" stroke-width="1.5"/>
<text transform="translate(619.6 460.4) scale(0.925 1)" font-size="19.6" fill="#000" text-anchor="start" >0.0</text>
<line x1="601.2" y1="418.0" x2="610.2" y2="418.0" stroke="#000" stroke-width="1.5"/>
<text transform="translate(619.6 423.8) scale(0.925 1)" font-size="19.6" fill="#000" text-anchor="start" >0.5</text>
<line x1="605.7" y1="436.3" x2="610.2" y2="436.3" stroke="#000" stroke-width="1.5"/>
<line x1="601.2" y1="381.4" x2="610.2" y2="381.4" stroke="#000" stroke-width="1.5"/>
<text transform="translate(619.6 387.2) scale(0.925 1)" font-size="19.6" fill="#000" text-anchor="start" >1.0</text>
<line x1="605.7" y1="399.7" x2="610.2" y2="399.7" stroke="#000" stroke-width="1.5"/>
<line x1="601.2" y1="344.8" x2="610.2" y2="344.8" stroke="#000" stroke-width="1.5"/>
<text transform="translate(619.6 350.6) scale(0.925 1)" font-size="19.6" fill="#000" text-anchor="start" >1.5</text>
<line x1="605.7" y1="363.1" x2="610.2" y2="363.1" stroke="#000" stroke-width="1.5"/>
<line x1="601.2" y1="308.2" x2="610.2" y2="308.2" stroke="#000" stroke-width="1.5"/>
<text transform="translate(619.6 314.0) scale(0.925 1)" font-size="19.6" fill="#000" text-anchor="start" >2.0</text>
<line x1="605.7" y1="326.5" x2="610.2" y2="326.5" stroke="#000" stroke-width="1.5"/>
<text transform="translate(619.6 277.4) scale(0.925 1)" font-size="19.6" fill="#000" text-anchor="start" >2.5</text>
<line x1="605.7" y1="289.9" x2="610.2" y2="289.9" stroke="#000" stroke-width="1.5"/>
<line x1="388.8" y1="463.7" x2="388.8" y2="472.7" stroke="#000" stroke-width="1.5"/>
<text transform="translate(388.8 496.6) scale(0.96 1)" font-size="19.6" fill="#000" text-anchor="middle" >-3</text>
<line x1="408.9" y1="468.2" x2="408.9" y2="472.7" stroke="#000" stroke-width="1.5"/>
<line x1="429.1" y1="463.7" x2="429.1" y2="472.7" stroke="#000" stroke-width="1.5"/>
<text transform="translate(429.1 496.6) scale(0.96 1)" font-size="19.6" fill="#000" text-anchor="middle" >-2</text>
<line x1="449.2" y1="468.2" x2="449.2" y2="472.7" stroke="#000" stroke-width="1.5"/>
<line x1="469.4" y1="463.7" x2="469.4" y2="472.7" stroke="#000" stroke-width="1.5"/>
<text transform="translate(469.4 496.6) scale(0.96 1)" font-size="19.6" fill="#000" text-anchor="middle" >-1</text>
<line x1="489.6" y1="468.2" x2="489.6" y2="472.7" stroke="#000" stroke-width="1.5"/>
<line x1="509.7" y1="463.7" x2="509.7" y2="472.7" stroke="#000" stroke-width="1.5"/>
<text transform="translate(509.7 496.6) scale(0.96 1)" font-size="19.6" fill="#000" text-anchor="middle" >0</text>
<line x1="529.9" y1="468.2" x2="529.9" y2="472.7" stroke="#000" stroke-width="1.5"/>
<line x1="550.0" y1="463.7" x2="550.0" y2="472.7" stroke="#000" stroke-width="1.5"/>
<text transform="translate(550.0 496.6) scale(0.96 1)" font-size="19.6" fill="#000" text-anchor="middle" >1</text>
<line x1="570.1" y1="468.2" x2="570.1" y2="472.7" stroke="#000" stroke-width="1.5"/>
<line x1="590.3" y1="463.7" x2="590.3" y2="472.7" stroke="#000" stroke-width="1.5"/>
<text transform="translate(590.3 496.6) scale(0.96 1)" font-size="19.6" fill="#000" text-anchor="middle" >2</text>
<text x="386.0" y="299.5" font-size="24" fill="#000" text-anchor="start" >(d)</text>
<text x="489.5" y="518.8" font-size="20" text-anchor="middle">V<tspan font-size="13" dy="7">G</tspan><tspan dy="-7"> (V)</tspan></text>
<text transform="translate(331.2 360) rotate(-90)" font-size="20" fill="#e60f1b" text-anchor="middle">I<tspan font-size="13" dy="7">D</tspan><tspan dy="-7"> (mA)</tspan></text>
<text transform="translate(665.5 358.7) rotate(-90)" font-size="20" text-anchor="middle">g<tspan font-size="13" dy="7">m</tspan><tspan dy="-7"> (mS)</tspan></text>
</svg></body></html>
